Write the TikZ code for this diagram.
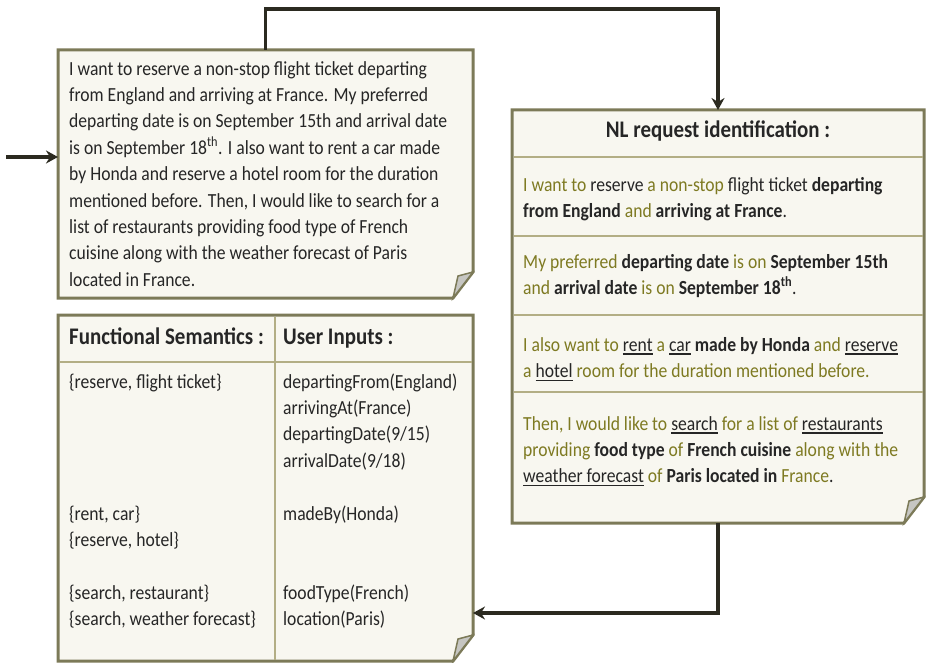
\documentclass[tikz,border=0pt]{standalone}
\usepackage{fontspec}
\setmainfont{Carlito}[FakeStretch=0.88]
\usetikzlibrary{arrows.meta,positioning,backgrounds,calc}
\definecolor{cardline}{HTML}{7C7A58}
\definecolor{cardfill}{HTML}{F8F7F0}
\definecolor{ruleline}{HTML}{B3AE85}
\definecolor{foldgray}{HTML}{C6C6C2}
\definecolor{inktext}{HTML}{262626}
\definecolor{olivetext}{HTML}{7E7A22}
\definecolor{wire}{HTML}{2B2A20}
\newcommand{\weak}[1]{\textcolor{olivetext}{#1}}
\newcommand{\kw}[1]{\textbf{#1}}
\newsavebox{\fnbox}
\newcommand{\fnword}[1]{\sbox{\fnbox}{#1}\rlap{\rule[-3.5pt]{\wd\fnbox}{1.2pt}}\usebox{\fnbox}}
% card outline with a turned-down corner
\newcommand{\dogear}[1]{%
  \begin{scope}[on background layer]
    \filldraw[fill=cardfill, draw=cardline, line width=3pt]
      (#1.north west) -- (#1.north east) -- ([yshift=26pt]#1.south east)
      -- ([xshift=-20pt]#1.south east) -- (#1.south west) -- cycle;
    \filldraw[fill=foldgray, draw=cardline, line width=1.5pt]
      ([yshift=26pt]#1.south east) -- ([xshift=-15pt,yshift=22pt]#1.south east)
      -- ([xshift=-20pt]#1.south east) -- cycle;
  \end{scope}}
% multi-line nodes sit on the baseline of their last line
\tikzset{
  notecard/.style={rectangle, draw=none, inner sep=0pt, outer sep=0pt},
  notetext/.style={inner sep=0pt, align=left, text=inktext, anchor=base west,
    font=\fontsize{20}{26.4}\selectfont},
  headtext/.style={notetext, font=\fontsize{23.8}{26.4}\selectfont\bfseries},
  rowrule/.style={draw=ruleline, line width=2pt},
  flowarrow/.style={-{Stealth[length=12pt,width=13pt,inset=4pt]},
    line width=3.5pt, draw=wire},
}

\begin{document}
\begin{tikzpicture}[x=1pt, y=-1pt]
  \useasboundingbox (0,0) rectangle (928,663);

  % Request card
  \node[notecard, minimum width=415pt, minimum height=248pt, anchor=north west] (request) at (58,50) {};
  \dogear{request}
  \node[notetext] (requesttext) at ([xshift=11pt,yshift=-236.2pt]request.north west) {%
    I want to reserve a non-stop flight ticket departing\\
    from England and arriving at France. My preferred\\
    departing date is on September 15th and arrival date\\
    is on September 18\textsuperscript{th}. I also want to rent a car made\\
    by Honda and reserve a hotel room for the duration\\
    mentioned before. Then, I would like to search for a\\
    list of restaurants providing food type of French\\
    cuisine along with the weather forecast of Paris\\
    located in France.};

  % Identification card
  \node[notecard, minimum width=412pt, minimum height=413pt, anchor=north west] (ident) at (512,110) {};
  \dogear{ident}
  \node[headtext, anchor=base] (identhead) at ([yshift=-28pt]ident.north) {NL request identification :};
  \foreach \dy in {47,126,205,282}
    \draw[rowrule] ([xshift=1.5pt,yshift=-\dy pt]ident.north west) -- ([xshift=-1.5pt,yshift=-\dy pt]ident.north east);
  \node[notetext] (flight) at ([xshift=11pt,yshift=-107.4pt]ident.north west) {%
    \weak{I want to} reserve \weak{a non-stop} flight ticket \kw{departing}\\
    \kw{from England} \weak{and} \kw{arriving at France}.};
  \node[notetext] (dates) at ([xshift=11pt,yshift=-184.4pt]ident.north west) {%
    \weak{My preferred} \kw{departing date} \weak{is on} \kw{September 15th}\\
    \weak{and} \kw{arrival date} \weak{is on} \kw{September 18\textsuperscript{th}}.};
  \node[notetext] (carhotel) at ([xshift=11pt,yshift=-267.4pt]ident.north west) {%
    \weak{I also want to} \fnword{rent} \weak{a} \fnword{car} \kw{made by Honda} \weak{and} \fnword{reserve}\\
    \weak{a} \fnword{hotel} \weak{room for the duration mentioned before.}};
  \node[notetext] (dining) at ([xshift=11pt,yshift=-372.8pt]ident.north west) {%
    \weak{Then, I would like to} \fnword{search} \weak{for a list of} \fnword{restaurants}\\
    \weak{providing} \kw{food type} \weak{of} \kw{French cuisine} \weak{along with the}\\
    \fnword{weather forecast} \weak{of} \kw{Paris located in} \weak{France}.};

  % Semantics table
  \node[notecard, minimum width=415pt, minimum height=346pt, below=17pt of request] (lookup) {};
  \dogear{lookup}
  \draw[rowrule] ([xshift=1.5pt,yshift=-47pt]lookup.north west) -- ([xshift=-1.5pt,yshift=-47pt]lookup.north east);
  \draw[rowrule] ([xshift=217pt,yshift=-1.5pt]lookup.north west) -- ([xshift=217pt,yshift=1.5pt]lookup.south west);
  \node[headtext] (semhead) at ([xshift=11pt,yshift=-29pt]lookup.north west) {Functional Semantics :};
  \node[headtext] (inphead) at ([xshift=225pt,yshift=-29pt]lookup.north west) {User Inputs :};
  \node[notetext] (sem1) at ([xshift=11pt,yshift=-73pt]lookup.north west) {\{reserve, flight ticket\}};
  \node[notetext] (sem2) at ([xshift=11pt,yshift=-231.4pt]lookup.north west) {\{rent, car\}\\ \{reserve, hotel\}};
  \node[notetext] (sem3) at ([xshift=11pt,yshift=-310.4pt]lookup.north west) {\{search, restaurant\}\\ \{search, weather forecast\}};
  \node[notetext] (inp1) at ([xshift=225pt,yshift=-152.2pt]lookup.north west) {%
    departingFrom(England)\\ arrivingAt(France)\\ departingDate(9/15)\\ arrivalDate(9/18)};
  \node[notetext] (inp2) at ([xshift=225pt,yshift=-205pt]lookup.north west) {madeBy(Honda)};
  \node[notetext] (inp3) at ([xshift=225pt,yshift=-310.4pt]lookup.north west) {foodType(French)\\ location(Paris)};

  % Arrows
  \coordinate (entry) at (6,157);
  \draw[flowarrow] (entry) -- (entry -| request.west);
  \draw[flowarrow] (request.north) -- ++(0,-41) -| (ident.north);
  \draw[flowarrow] (ident.south) -- ++(0,90) coordinate (bend) -- (bend -| lookup.east);
\end{tikzpicture}
\end{document}
